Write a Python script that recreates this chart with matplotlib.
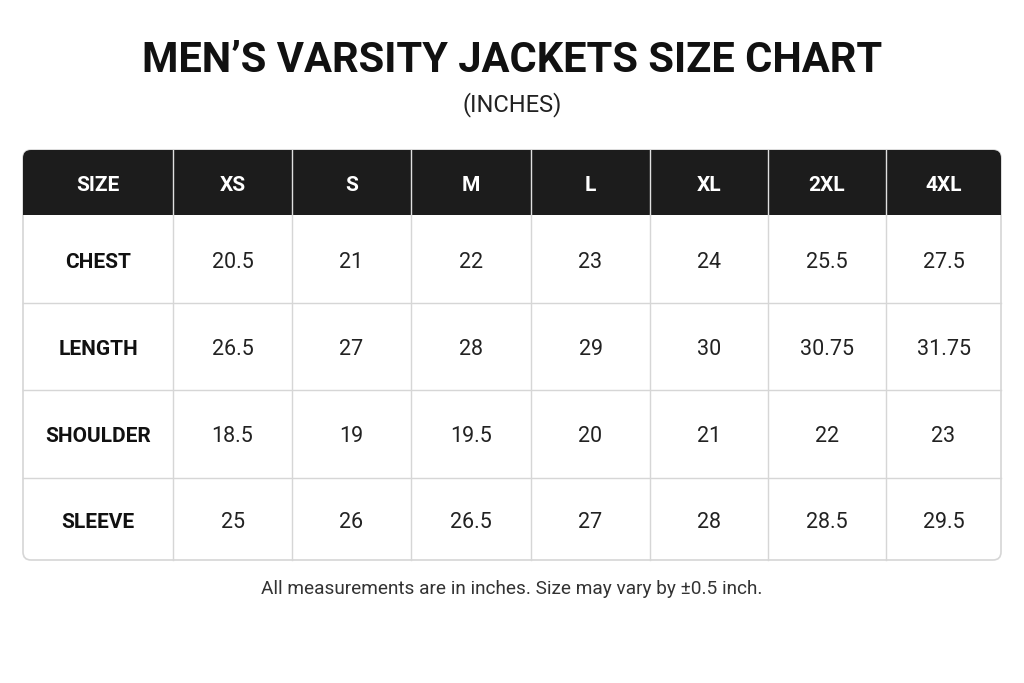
import matplotlib
matplotlib.use("Agg")
import matplotlib.pyplot as plt
from matplotlib.patches import FancyBboxPatch, Rectangle

sizes = ["XS", "S", "M", "L", "XL", "2XL", "4XL"]
rows = ["CHEST", "LENGTH", "SHOULDER", "SLEEVE"]
chest = ["20.5", "21", "22", "23", "24", "25.5", "27.5"]
length = ["26.5", "27", "28", "29", "30", "30.75", "31.75"]
shoulder = ["18.5", "19", "19.5", "20", "21", "22", "23"]
sleeve = ["25", "26", "26.5", "27", "28", "28.5", "29.5"]
values = [chest, length, shoulder, sleeve]

fig = plt.figure(figsize=(10.24, 6.83), dpi=100)
ax = fig.add_axes([0, 0, 1, 1])
ax.set_xlim(0, 1024); ax.set_ylim(683, 0); ax.axis("off")

xs = [23, 173, 292, 411, 531, 650, 768, 886, 1001]
ys = [150, 215, 303, 390, 478, 560]
dark = "#1c1c1c"; grid = "#d6d6d6"

ax.add_patch(FancyBboxPatch((xs[0], ys[0]), xs[-1]-xs[0], ys[-1]-ys[0],
             boxstyle="round,pad=0,rounding_size=8", fc="white", ec=grid, lw=1.2))
ax.add_patch(FancyBboxPatch((xs[0], ys[0]), xs[-1]-xs[0], ys[1]-ys[0],
             boxstyle="round,pad=0,rounding_size=8", fc=dark, ec=dark, lw=0))
ax.add_patch(Rectangle((xs[0], ys[0]+20), xs[-1]-xs[0], ys[1]-ys[0]-20, fc=dark, ec=dark, lw=0))
for x in xs[1:-1]:
    ax.plot([x, x], [ys[0], ys[1]], color="#e0e0e0", lw=1)
    ax.plot([x, x], [ys[1], ys[-1]], color=grid, lw=1)
for y in ys[2:-1]:
    ax.plot([xs[0], xs[-1]], [y, y], color=grid, lw=1)

fb = dict(family=["Roboto", "DejaVu Sans"], fontweight="bold")
fr = dict(family=["Roboto", "DejaVu Sans"])
hy = (ys[0]+ys[1])/2 + 3
ax.text((xs[0]+xs[1])/2, hy, "SIZE", color="white", ha="center", va="center", fontsize=15, **fb)
for i, s in enumerate(sizes):
    ax.text((xs[i+1]+xs[i+2])/2, hy, s, color="white", ha="center", va="center", fontsize=15, **fb)
for r, (name, vals) in enumerate(zip(rows, values)):
    cy = (ys[r+1]+ys[r+2])/2 + 3
    ax.text((xs[0]+xs[1])/2, cy, name, color="#111", ha="center", va="center", fontsize=15, **fb)
    for i, v in enumerate(vals):
        ax.text((xs[i+1]+xs[i+2])/2, cy, v, color="#222", ha="center", va="center", fontsize=15.5, **fr)

ax.text(512, 60, "MEN’S VARSITY JACKETS SIZE CHART", ha="center", va="center",
        fontsize=30, color="#111", **fb)
ax.text(512, 105, "(INCHES)", ha="center", va="center", fontsize=17, color="#222", **fr)
ax.text(512, 589, "All measurements are in inches. Size may vary by ±0.5 inch.",
        ha="center", va="center", fontsize=13.7, color="#333", **fr)
fig.savefig("out.png", dpi=100, facecolor="white")
